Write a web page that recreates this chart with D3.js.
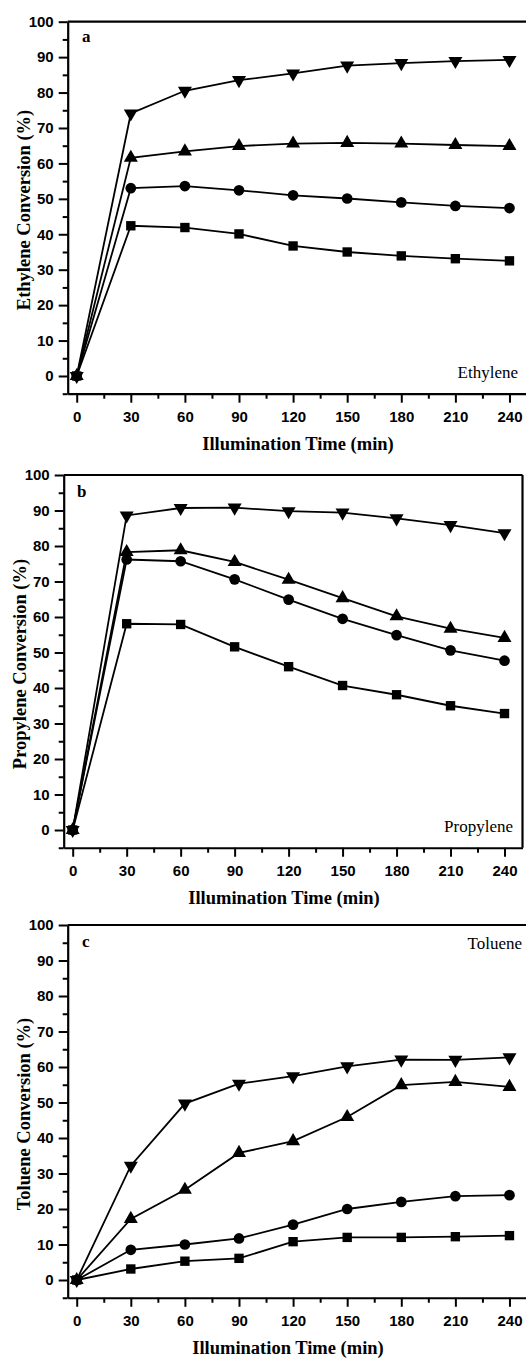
<!DOCTYPE html>
<html>
<head>
<meta charset="utf-8">
<script src="https://cdn.jsdelivr.net/npm/d3@7"></script>
<style>
  html, body { margin: 0; padding: 0; background: #fff; }
  svg { display: block; }
</style>
</head>
<body>
<svg id="chart" width="526" height="1358"></svg>
<script>
// ---- Data ----
const times = [0, 30, 60, 90, 120, 150, 180, 210, 240];
const xMajorTicks = [0, 30, 60, 90, 120, 150, 180, 210, 240];
const xMinorTicks = [15, 45, 75, 105, 135, 165, 195, 225];
const yMajorTicks = [0, 10, 20, 30, 40, 50, 60, 70, 80, 90, 100];
const yMinorTicks = [-5, 5, 15, 25, 35, 45, 55, 65, 75, 85, 95];

// Panel a: Ethylene
const ethyleneDown   = [0, 74.1, 80.5, 83.5, 85.4, 87.6, 88.3, 88.9, 89.2];
const ethyleneUp     = [0, 61.6, 63.4, 64.9, 65.6, 65.8, 65.6, 65.2, 64.9];
const ethyleneCircle = [0, 53.0, 53.6, 52.4, 51.0, 50.1, 49.0, 48.0, 47.4];
const ethyleneSquare = [0, 42.4, 41.9, 40.1, 36.7, 35.0, 33.9, 33.1, 32.5];

// Panel b: Propylene
const propyleneDown   = [0, 88.6, 90.7, 90.8, 89.8, 89.4, 87.8, 85.9, 83.6];
const propyleneUp     = [0, 78.3, 78.8, 75.5, 70.5, 65.3, 60.2, 56.7, 54.1];
const propyleneCircle = [0, 76.2, 75.7, 70.6, 64.9, 59.5, 54.9, 50.6, 47.7];
const propyleneSquare = [0, 58.1, 57.9, 51.6, 46.0, 40.7, 38.1, 35.0, 32.8];

// Panel c: Toluene
const tolueneDown   = [0, 32.2, 49.7, 55.3, 57.4, 60.2, 62.1, 62.0, 62.7];
const tolueneUp     = [0, 17.2, 25.4, 35.8, 39.1, 45.9, 54.9, 55.8, 54.4];
const tolueneCircle = [0, 8.5, 10.0, 11.7, 15.6, 20.0, 22.0, 23.6, 23.9];
const tolueneSquare = [0, 3.1, 5.3, 6.1, 10.8, 12.0, 12.0, 12.2, 12.5];

const panelLetters = ["a", "b", "c"];
const gasNames = ["Ethylene", "Propylene", "Toluene"];
const yTitles = ["Ethylene Conversion (%)", "Propylene Conversion (%)", "Toluene Conversion (%)"];
const xTitle = "Illumination Time (min)";

// ---- Layout (positions/styles) ----
const panels = [
  { letter: panelLetters[0], gas: gasNames[0], ytitle: yTitles[0],
    series: [ethyleneDown, ethyleneUp, ethyleneCircle, ethyleneSquare],
    x0: 67.7, x1: 527.5, yTop: 21.7, yBot: 393.7,
    yTitleX: 30, yTitleY: 210, xTitleX: 298, gasX: 518, gasY: 378,
    letterX: 82, letterY: 41.5 },
  { letter: panelLetters[1], gas: gasNames[1], ytitle: yTitles[1],
    series: [propyleneDown, propyleneUp, propyleneCircle, propyleneSquare],
    x0: 63.7, x1: 522.5, yTop: 475, yBot: 847.75,
    yTitleX: 25.5, yTitleY: 664, xTitleX: 284, gasX: 513, gasY: 832,
    letterX: 77, letterY: 496.5 },
  { letter: panelLetters[2], gas: gasNames[2], ytitle: yTitles[2],
    series: [tolueneDown, tolueneUp, tolueneCircle, tolueneSquare],
    x0: 67.7, x1: 527.5, yTop: 925, yBot: 1297.75,
    yTitleX: 30, yTitleY: 1114, xTitleX: 288, gasX: 522, gasY: 949,
    letterX: 82, letterY: 947 }
];

const symbols = [
  { type: d3.symbolTriangle, size: 85, rotate: 180 },
  { type: d3.symbolTriangle, size: 85, rotate: 0 },
  { type: d3.symbolCircle, size: 90, rotate: 0 },
  { type: d3.symbolSquare, size: 88, rotate: 0 }
];

const svg = d3.select("#chart");
const tickFont = "'Liberation Sans', Arial, sans-serif";
const serif = "'Liberation Serif', 'Times New Roman', serif";

panels.forEach(p => {
  const x = d3.scaleLinear().domain([-5, 250]).range([p.x0, p.x1]);
  const y = d3.scaleLinear().domain([-5, 100]).range([p.yBot, p.yTop]);
  const g = svg.append("g");

  // frame: top + right
  g.append("line").attr("x1", p.x0).attr("x2", p.x1).attr("y1", p.yTop).attr("y2", p.yTop)
    .attr("stroke", "#000").attr("stroke-width", 2.2);
  g.append("line").attr("x1", p.x1).attr("x2", p.x1).attr("y1", p.yTop).attr("y2", p.yBot)
    .attr("stroke", "#000").attr("stroke-width", 2.2);

  // x axis
  const xAx = g.append("g").attr("transform", `translate(0,${p.yBot})`)
    .call(d3.axisBottom(x).tickValues(xMajorTicks).tickSize(9).tickSizeOuter(0).tickPadding(8.5)
      .tickFormat(d3.format("d")));
  const xMin = g.append("g").attr("transform", `translate(0,${p.yBot})`)
    .call(d3.axisBottom(x).tickValues(xMinorTicks).tickSize(5).tickSizeOuter(0).tickFormat(""));
  xMin.select(".domain").remove();

  // y axis
  const yAx = g.append("g").attr("transform", `translate(${p.x0},0)`)
    .call(d3.axisLeft(y).tickValues(yMajorTicks).tickSize(9).tickSizeOuter(0).tickPadding(5)
      .tickFormat(d3.format("d")));
  const yMin = g.append("g").attr("transform", `translate(${p.x0},0)`)
    .call(d3.axisLeft(y).tickValues(yMinorTicks).tickSize(5).tickSizeOuter(0).tickFormat(""));
  yMin.select(".domain").remove();

  [xAx, xMin, yAx, yMin].forEach(a => {
    a.selectAll("path.domain").attr("stroke", "#000").attr("stroke-width", 2.2);
    a.selectAll(".tick line").attr("stroke", "#000").attr("stroke-width", 2);
    a.selectAll(".tick text").attr("fill", "#000")
      .style("font-family", tickFont).style("font-weight", "bold").style("font-size", "15px");
  });

  // series
  const line = d3.line().x((d, i) => x(times[i])).y(d => y(d));
  p.series.forEach((vals, si) => {
    g.append("path").datum(vals).attr("d", line)
      .attr("fill", "none").attr("stroke", "#000").attr("stroke-width", 1.8);
  });
  p.series.forEach((vals, si) => {
    const s = symbols[si];
    const gen = d3.symbol().type(s.type).size(s.size);
    g.selectAll(null).data(vals).enter().append("path")
      .attr("d", gen)
      .attr("transform", (d, i) => `translate(${x(times[i])},${y(d)}) rotate(${s.rotate})`)
      .attr("fill", "#000");
  });

  // titles
  g.append("text").attr("x", p.xTitleX).attr("y", p.yBot + 56)
    .attr("text-anchor", "middle")
    .style("font-family", serif).style("font-weight", "bold").style("font-size", "18.5px")
    .text(xTitle);
  g.append("text")
    .attr("transform", `translate(${p.yTitleX},${p.yTitleY}) rotate(-90)`)
    .attr("text-anchor", "middle")
    .style("font-family", serif).style("font-weight", "bold").style("font-size", "18.5px")
    .text(p.ytitle);

  g.append("text").attr("x", p.letterX).attr("y", p.letterY)
    .style("font-family", serif).style("font-weight", "bold").style("font-size", "17px")
    .text(p.letter);
  g.append("text").attr("x", p.gasX).attr("y", p.gasY).attr("text-anchor", "end")
    .style("font-family", serif).style("font-size", "17px")
    .text(p.gas);
});
</script>
</body>
</html>
